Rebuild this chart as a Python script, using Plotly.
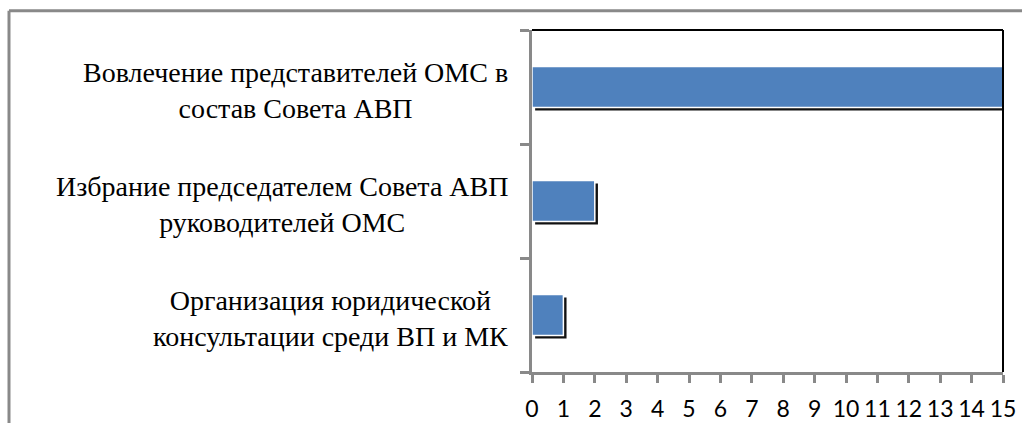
'''
    Horizontal bar chart: forms of involvement of OMS representatives.
'''

import plotly.graph_objects as go

categories = [
    "Вовлечение представителей ОМС в<br>состав Совета АВП",
    "Избрание председателем Совета АВП<br>руководителей ОМС",
    "Организация юридической<br>консультации среди ВП и МК",
]
values = [15, 2, 1]
x_ticks = list(range(0, 16))

BAR_COLOR = "#4F81BD"
AXIS_GRAY = "#898989"
BAR_WIDTH = 0.36
SERIF = "Liberation Serif, Times New Roman, serif"

W, H = 1022, 423
L, R, T, B = 532, 19, 30, 51
pw, ph = W - L - R, H - T - B


def px_x(px):
    return (px - L) / pw


def px_y(py):
    return (H - B - py) / ph


fig = go.Figure()

# shadow under each bar (shifted a few pixels right and down)
fig.add_trace(go.Bar(
    y=categories, x=values, base=0.1, orientation="h",
    width=BAR_WIDTH, offset=-BAR_WIDTH / 2 - 0.027,
    marker=dict(color="#111111", line=dict(width=0)),
    hoverinfo="skip", showlegend=False))

fig.add_trace(go.Bar(
    y=categories, x=values, orientation="h",
    width=BAR_WIDTH, offset=-BAR_WIDTH / 2,
    marker=dict(color=BAR_COLOR, line=dict(color="white", width=1.5)),
    showlegend=False))

fig.update_layout(
    width=W, height=H,
    margin=dict(l=L, r=R, t=T, b=B, pad=0, autoexpand=False),
    barmode="overlay",
    plot_bgcolor="white", paper_bgcolor="white",
)

fig.update_xaxes(
    range=[0, 15], tickvals=x_ticks, showgrid=False, zeroline=False,
    showline=True, linecolor=AXIS_GRAY, linewidth=3,
    ticks="outside", ticklen=8, tickwidth=3, tickcolor=AXIS_GRAY,
    ticklabelstandoff=6, automargin=False,
    tickfont=dict(family="Lato", size=23, color="black"))

fig.update_yaxes(
    categoryorder="array", categoryarray=categories[::-1],
    range=[-0.5, 2.5], showgrid=False, zeroline=False,
    showline=True, linecolor=AXIS_GRAY, linewidth=3,
    ticks="outside", tickson="boundaries", ticklen=9, tickwidth=3,
    tickcolor=AXIS_GRAY, showticklabels=False, automargin=False)

# category labels: centred lines, block right-aligned next to the axis
for cat in categories:
    fig.add_annotation(
        x=0, xref="x", y=cat, yref="y", xshift=-22, yshift=-3,
        xanchor="right", yanchor="middle", align="center",
        text=cat, showarrow=False,
        font=dict(family=SERIF, size=28, color="black"))

# black top / right border of the plot area
fig.add_shape(type="line", xref="x domain", yref="y domain",
              x0=0, x1=1, y0=1, y1=1, line=dict(color="black", width=2))
fig.add_shape(type="line", xref="x domain", yref="y domain",
              x0=1, x1=1, y0=0, y1=1, line=dict(color="black", width=2))

# outer chart frame (only top and left edges are visible)
fig.add_shape(type="line", xref="paper", yref="paper",
              x0=px_x(9), x1=px_x(1030), y0=px_y(10.7), y1=px_y(10.7),
              line=dict(color=AXIS_GRAY, width=3))
fig.add_shape(type="line", xref="paper", yref="paper",
              x0=px_x(9), x1=px_x(9), y0=px_y(10.7), y1=px_y(430),
              line=dict(color=AXIS_GRAY, width=3))

# drop the default page margin so the figure fills the window exactly
fig.write_html(
    "out.html",
    config={"displayModeBar": False},
    post_script="document.body.style.margin='0';"
                "document.body.style.overflow='hidden';")
